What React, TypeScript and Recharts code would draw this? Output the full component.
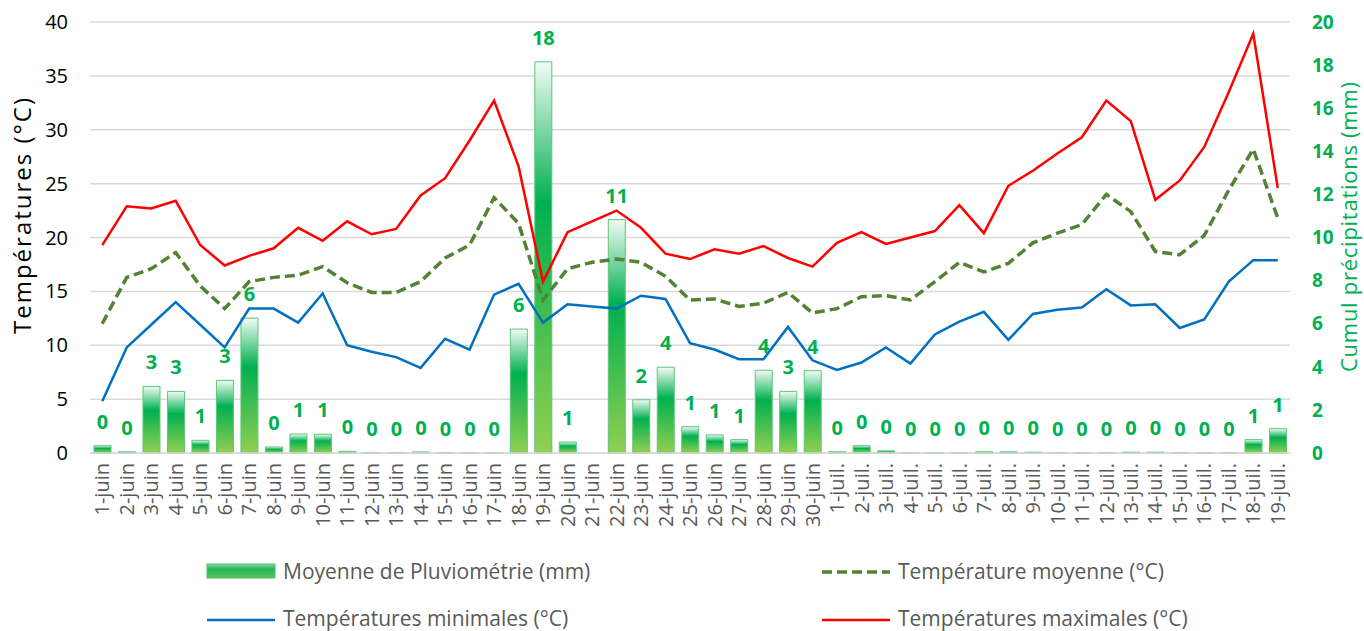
import React from "react";
import {
  ComposedChart,
  Bar,
  Line,
  XAxis,
  YAxis,
  CartesianGrid,
  LabelList,
} from "recharts";

const categories = [
  "1-juin", "2-juin", "3-juin", "4-juin", "5-juin", "6-juin", "7-juin", "8-juin", "9-juin", "10-juin",
  "11-juin", "12-juin", "13-juin", "14-juin", "15-juin", "16-juin", "17-juin", "18-juin", "19-juin", "20-juin",
  "21-juin", "22-juin", "23-juin", "24-juin", "25-juin", "26-juin", "27-juin", "28-juin", "29-juin", "30-juin",
  "1-juil.", "2-juil.", "3-juil.", "4-juil.", "5-juil.", "6-juil.", "7-juil.", "8-juil.", "9-juil.", "10-juil.",
  "11-juil.", "12-juil.", "13-juil.", "14-juil.", "15-juil.", "16-juil.", "17-juil.", "18-juil.", "19-juil.",
];

const rain: (number | null)[] = [
  0.34, 0.06, 3.09, 2.86, 0.59, 3.37, 6.26, 0.28, 0.88, 0.87,
  0.08, 0.02, 0.02, 0.05, 0.02, 0.01, 0.02, 5.75, 18.15, 0.51,
  null, 10.83, 2.47, 3.98, 1.22, 0.84, 0.62, 3.84, 2.86, 3.82,
  0.06, 0.34, 0.1, 0.02, 0.01, 0.02, 0.06, 0.06, 0.04, 0.02,
  0.01, 0.02, 0.04, 0.04, 0.02, 0.01, 0.02, 0.62, 1.13,
];

const tMax = [
  19.3, 22.9, 22.7, 23.4, 19.3, 17.4, 18.3, 19.0, 20.9, 19.7,
  21.5, 20.3, 20.8, 23.9, 25.5, 29.0, 32.7, 26.6, 15.9, 20.5,
  21.5, 22.5, 20.9, 18.5, 18.0, 18.9, 18.5, 19.2, 18.1, 17.3,
  19.5, 20.5, 19.4, 20.0, 20.6, 23.0, 20.4, 24.8, 26.2, 27.8,
  29.3, 32.7, 30.8, 23.5, 25.3, 28.4, 33.5, 38.9, 24.6,
];

const tMean = [
  12.0, 16.3, 17.1, 18.6, 15.5, 13.4, 15.9, 16.3, 16.5, 17.3,
  15.8, 14.9, 14.9, 15.9, 18.1, 19.3, 23.7, 21.3, 14.2, 17.1,
  17.7, 18.0, 17.7, 16.4, 14.2, 14.3, 13.6, 13.9, 14.9, 13.0,
  13.4, 14.5, 14.6, 14.2, 15.9, 17.7, 16.8, 17.6, 19.5, 20.4,
  21.2, 24.0, 22.4, 18.7, 18.4, 20.2, 24.4, 28.2, 21.8,
];

const tMin = [
  4.8, 9.8, 11.9, 14.0, 11.9, 9.8, 13.4, 13.4, 12.1, 14.8,
  10.0, 9.4, 8.9, 7.9, 10.6, 9.6, 14.7, 15.7, 12.1, 13.8,
  13.6, 13.4, 14.6, 14.3, 10.2, 9.6, 8.7, 8.7, 11.7, 8.6,
  7.7, 8.4, 9.8, 8.3, 11.0, 12.2, 13.1, 10.5, 12.9, 13.3,
  13.5, 15.2, 13.7, 13.8, 11.6, 12.4, 15.9, 17.9, 17.9,
];

const leftTicks = [0, 5, 10, 15, 20, 25, 30, 35, 40];
const rightTicks = [0, 2, 4, 6, 8, 10, 12, 14, 16, 18, 20];

const data = categories.map((cat, i) => ({
  cat,
  rain: rain[i],
  rainLabel: rain[i] == null ? null : Math.round(rain[i] as number),
  tMax: tMax[i],
  tMean: tMean[i],
  tMin: tMin[i],
}));

const FONT = "'Open Sans', 'DejaVu Sans', sans-serif";
const GREEN = "#00b050";

const XTick = (props: any) => {
  const { x, y, payload } = props;
  return (
    <text
      x={x}
      y={y}
      transform={`rotate(-90 ${x} ${y})`}
      textAnchor="end"
      dy="0.36em"
      fontSize={20}
      fontFamily={FONT}
      fill="#595959"
    >
      {payload.value}
    </text>
  );
};

export default function App() {
  return (
    <div
      style={{
        position: "relative",
        width: 1364,
        height: 631,
        overflow: "hidden",
        fontFamily: FONT,
        background: "#ffffff",
      }}
    >
      <style>{`html,body{margin:0;padding:0;overflow:hidden;}`}</style>
      <ComposedChart
        width={1364}
        height={548}
        data={data}
        margin={{ top: 22, right: 0, bottom: 0, left: 0 }}
        barCategoryGap={0}
      >
        <defs>
          <linearGradient id="rainGrad" x1="0" y1="0" x2="0" y2="1">
            <stop offset="0%" stopColor="#f2fbf5" />
            <stop offset="36%" stopColor="#00b050" />
            <stop offset="100%" stopColor="#92d050" />
          </linearGradient>
        </defs>
        <CartesianGrid
          yAxisId="left"
          vertical={false}
          stroke="#d9d9d9"
          strokeWidth={1.5}
        />
        <XAxis
          dataKey="cat"
          interval={0}
          height={95}
          tickLine={false}
          tickSize={0}
          tickMargin={10}
          axisLine={{ stroke: "#d9d9d9", strokeWidth: 1.5 }}
          tick={<XTick />}
        />
        <YAxis
          yAxisId="left"
          orientation="left"
          width={90}
          domain={[0, 40]}
          ticks={leftTicks}
          interval={0}
          axisLine={false}
          tickLine={false}
          tickSize={0}
          tickMargin={22}
          tick={{ fontSize: 20, fill: "#000000", fontFamily: FONT }}
        />
        <YAxis
          yAxisId="right"
          orientation="right"
          width={74}
          domain={[0, 20]}
          ticks={rightTicks}
          interval={0}
          axisLine={false}
          tickLine={false}
          tickSize={0}
          tickMargin={22}
          tick={{ fontSize: 19, fill: GREEN, fontWeight: "bold", fontFamily: FONT, textAnchor: "start" }}
        />
        <Bar
          yAxisId="right"
          dataKey="rain"
          barSize={17}
          fill="url(#rainGrad)"
          stroke="#5cc77a"
          strokeWidth={1}
          isAnimationActive={false}
        >
          <LabelList
            dataKey="rainLabel"
            position="top"
            offset={17}
            fill={GREEN}
            fontSize={20}
            fontWeight="bold"
            fontFamily={FONT}
          />
        </Bar>
        <Line
          yAxisId="left"
          type="linear"
          dataKey="tMean"
          stroke="#548235"
          strokeWidth={3.5}
          strokeDasharray="10 5"
          dot={false}
          isAnimationActive={false}
        />
        <Line
          yAxisId="left"
          type="linear"
          dataKey="tMin"
          stroke="#0070c0"
          strokeWidth={2.5}
          dot={false}
          isAnimationActive={false}
        />
        <Line
          yAxisId="left"
          type="linear"
          dataKey="tMax"
          stroke="#ff0000"
          strokeWidth={2.5}
          dot={false}
          isAnimationActive={false}
        />
      </ComposedChart>

      <svg
        width={1364}
        height={631}
        style={{ position: "absolute", left: 0, top: 0, pointerEvents: "none" }}
      >
        <defs>
          <linearGradient id="legGrad" x1="0" y1="0" x2="0" y2="1">
            <stop offset="0%" stopColor="#8fdca4" />
            <stop offset="35%" stopColor="#1fb557" />
            <stop offset="100%" stopColor="#5cc35a" />
          </linearGradient>
        </defs>
        <text
          transform="translate(31,216) rotate(-90)"
          textAnchor="middle"
          fontSize={24}
          fontFamily={FONT}
          fill="#000000"
          textLength={236}
          lengthAdjust="spacing"
        >
          Températures (°C)
        </text>
        <text
          transform="translate(1357,227) rotate(-90)"
          textAnchor="middle"
          fontSize={22}
          fontFamily={FONT}
          fill={GREEN}
          textLength={290}
          lengthAdjust="spacing"
        >
          Cumul précipitations (mm)
        </text>

        <rect x={207} y={564} width={68} height={14} fill="url(#legGrad)" stroke="#4cc46a" strokeWidth={1} />
        <text x={283} y={579} fontSize={21} fontFamily={FONT} fill="#595959">
          Moyenne de Pluviométrie (mm)
        </text>

        <line x1={822} y1={572} x2={890} y2={572} stroke="#548235" strokeWidth={3.5} strokeDasharray="10 5" />
        <text x={898} y={579} fontSize={21} fontFamily={FONT} fill="#595959">
          Température moyenne (°C)
        </text>

        <line x1={207} y1={620} x2={275} y2={620} stroke="#0070c0" strokeWidth={2.5} />
        <text x={283} y={626} fontSize={21} fontFamily={FONT} fill="#595959">
          Températures minimales (°C)
        </text>

        <line x1={822} y1={620} x2={890} y2={620} stroke="#ff0000" strokeWidth={2.5} />
        <text x={898} y={626} fontSize={21} fontFamily={FONT} fill="#595959">
          Températures maximales (°C)
        </text>
      </svg>
    </div>
  );
}
